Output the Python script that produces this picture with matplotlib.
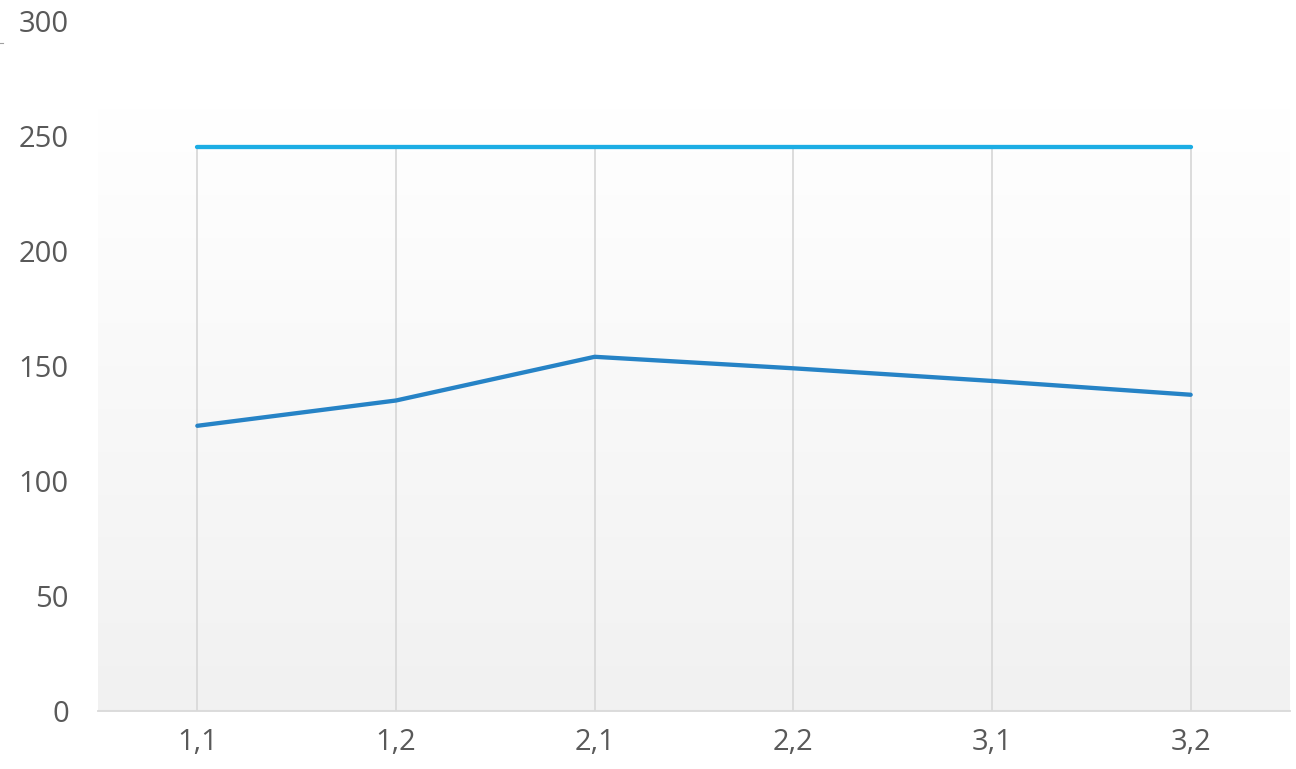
import numpy as np
import matplotlib
matplotlib.use("Agg")
import matplotlib.pyplot as plt

categories = ["1,1", "1,2", "2,1", "2,2", "3,1", "3,2"]
upper_series = [245, 245, 245, 245, 245, 245]
lower_series = [124, 135, 154, 149, 143.5, 137.5]
y_ticks = [0, 50, 100, 150, 200, 250, 300]

plt.rcParams['font.family'] = ['Open Sans', 'DejaVu Sans']

fig = plt.figure(figsize=(12.96, 7.69), dpi=100)
ax = fig.add_axes([98/1296, 1 - 711/769, (1290 - 98)/1296, (711 - 21)/769])
ax.set_facecolor("white")

x = np.arange(len(categories))
ax.set_xlim(-0.5, len(categories) - 0.5)
ax.set_ylim(0, 300)

# gradient plot-area background
grad = np.linspace(0, 1, 256).reshape(-1, 1)
top_c = np.array([1.0, 1.0, 1.0])
bot_c = np.array([0.945, 0.945, 0.945])
img = bot_c + (top_c - bot_c) * grad
img = img.reshape(256, 1, 3)
ax.imshow(img, extent=[-0.5, len(categories) - 0.5, 0, 262], origin="lower",
          aspect="auto", zorder=0, interpolation="bilinear")

# drop lines
ax.vlines(x, 0, upper_series, colors="#d9d9d9", linewidth=1.3, zorder=1)

ax.plot(x, upper_series, color="#1CADE4", linewidth=3.1, solid_capstyle="round", zorder=3)
ax.plot(x, lower_series, color="#2683C6", linewidth=3.1, solid_capstyle="round",
        solid_joinstyle="round", zorder=3)

ax.set_xticks(x)
ax.set_xticklabels(categories)
ax.set_yticks(y_ticks)
ax.tick_params(axis="both", length=0, labelsize=21, labelcolor="#595959")
ax.tick_params(axis="y", pad=21)
ax.tick_params(axis="x", pad=12)

for s in ["left", "right", "top"]:
    ax.spines[s].set_visible(False)
ax.spines["bottom"].set_color("#d9d9d9")
ax.spines["bottom"].set_linewidth(1.3)

# small mark at top-left
fig.add_artist(plt.Line2D([0, 3/1296], [1 - 43/769, 1 - 43/769], color="#a0a0a0", linewidth=0.8))

fig.savefig("out.png", dpi=100)
